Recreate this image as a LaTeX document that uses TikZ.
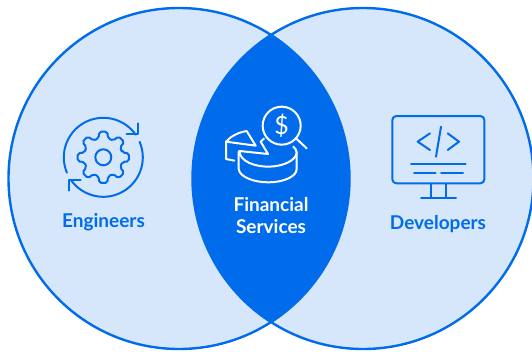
\documentclass[tikz,border=0pt]{standalone}
\usepackage{fontspec}
\setmainfont{Lato}
\usetikzlibrary{positioning,calc}
\definecolor{mainblue}{RGB}{0,108,236}
\definecolor{lightblue}{RGB}{214,231,251}
\tikzset{
    setline/.style={draw=mainblue, line width=2.4pt},
    iconline/.style={draw=mainblue, line width=2pt, line cap=round, line join=round},
    iconwhite/.style={draw=white, line width=2pt, line cap=round, line join=round},
    setlabel/.style={font=\bfseries\fontsize{19}{22}\selectfont, text=mainblue, inner sep=0pt, align=center}
}

\begin{document}
\begin{tikzpicture}[x=1pt, y=1pt, yscale=-1]
    \useasboundingbox (0,0) rectangle (532,351);

    % Circles
    \fill[lightblue] (179,178.5) circle (170.5);
    \fill[lightblue] (363,178.5) circle (170.5);
    \begin{scope}
        \clip (179,178.5) circle (170.5);
        \fill[mainblue] (363,178.5) circle (170.5);
    \end{scope}
    \draw[setline] (179,178.5) circle (170.5);
    \draw[setline] (363,178.5) circle (170.5);

    % Gear icon
    \begin{scope}[shift={(103.3,157.3)}]
        \draw[iconline] (0,0) circle (8);
        \draw[iconline, rounded corners=2pt] (-14:19.5)
            \foreach \a in {0,45,...,315} {
                -- (\a-14:19.5) -- (\a-9:26) -- (\a+9:26) -- (\a+14:19.5)
            } -- cycle;
        \draw[iconline] (157:39.5) arc (157:325:39.5);
        \draw[iconline] (-23:39.5) arc (-23:145:39.5);
    \end{scope}
    \begin{scope}[shift={(40,100)}, scale=1/3]
        \draw[iconline] (295,70) -- (295,102) -- (260,102);
        \draw[iconline] (122,240) -- (88,240) -- (88,272);
    \end{scope}

    % Pie and magnifier icon
    \begin{scope}[shift={(200,95)}, scale=1/3]
        \draw[iconwhite] (245,92) circle (57);
        \draw[iconwhite] (288,130) -- (320,160);
        \draw[iconwhite] (167,152) -- (140,108) .. controls (115,112) and (92,124) .. (78,140) -- (167,152);
        \draw[iconwhite] (78,140) -- (78,192) -- (103,197);
        \draw[iconwhite] (182,140) -- (192,131);
        \draw[iconwhite] (182,140) -- (204,177) -- (118,168);
        \draw[iconwhite] (118,168) .. controls (120,200) and (165,215) .. (205,215) .. controls (250,215) and (290,195) .. (290,172) .. controls (290,165) and (285,160) .. (280,155);
        \draw[iconwhite] (116,170) -- (116,222) .. controls (118,245) and (160,262) .. (205,262) .. controls (250,262) and (290,245) .. (290,222) -- (290,172);
    \end{scope}

    % Monitor icon
    \begin{scope}[shift={(375,105)}, scale=1/3]
        \draw[iconline, rounded corners=4pt] (52,33) rectangle (328,235);
        \draw[iconline] (165,85) -- (128,110) -- (165,135);
        \draw[iconline] (218,85) -- (252,110) -- (218,135);
        \draw[iconline] (198,65) -- (183,155);
        \draw[iconline] (108,178) -- (272,178);
        \draw[iconline] (117,204) -- (182,204);
        \draw[iconline] (198,204) -- (264,204);
        \draw[iconline] (168,237) -- (168,278);
        \draw[iconline] (213,237) -- (213,278);
        \draw[iconline] (138,279) -- (243,279);
    \end{scope}

    % Labels
    \node[setlabel] (engineers) at (103.5,222.5) {Engineers};
    \node[setlabel, text=white] (financial) at (271,216) {Financial\\Services};
    \node[setlabel] (developers) at (438,224.5) {Developers};
    \node[text=white, inner sep=0pt, font=\fontsize{25}{28}\selectfont] (dollar) at (281.7,125.7) {\$};
\end{tikzpicture}
\end{document}
